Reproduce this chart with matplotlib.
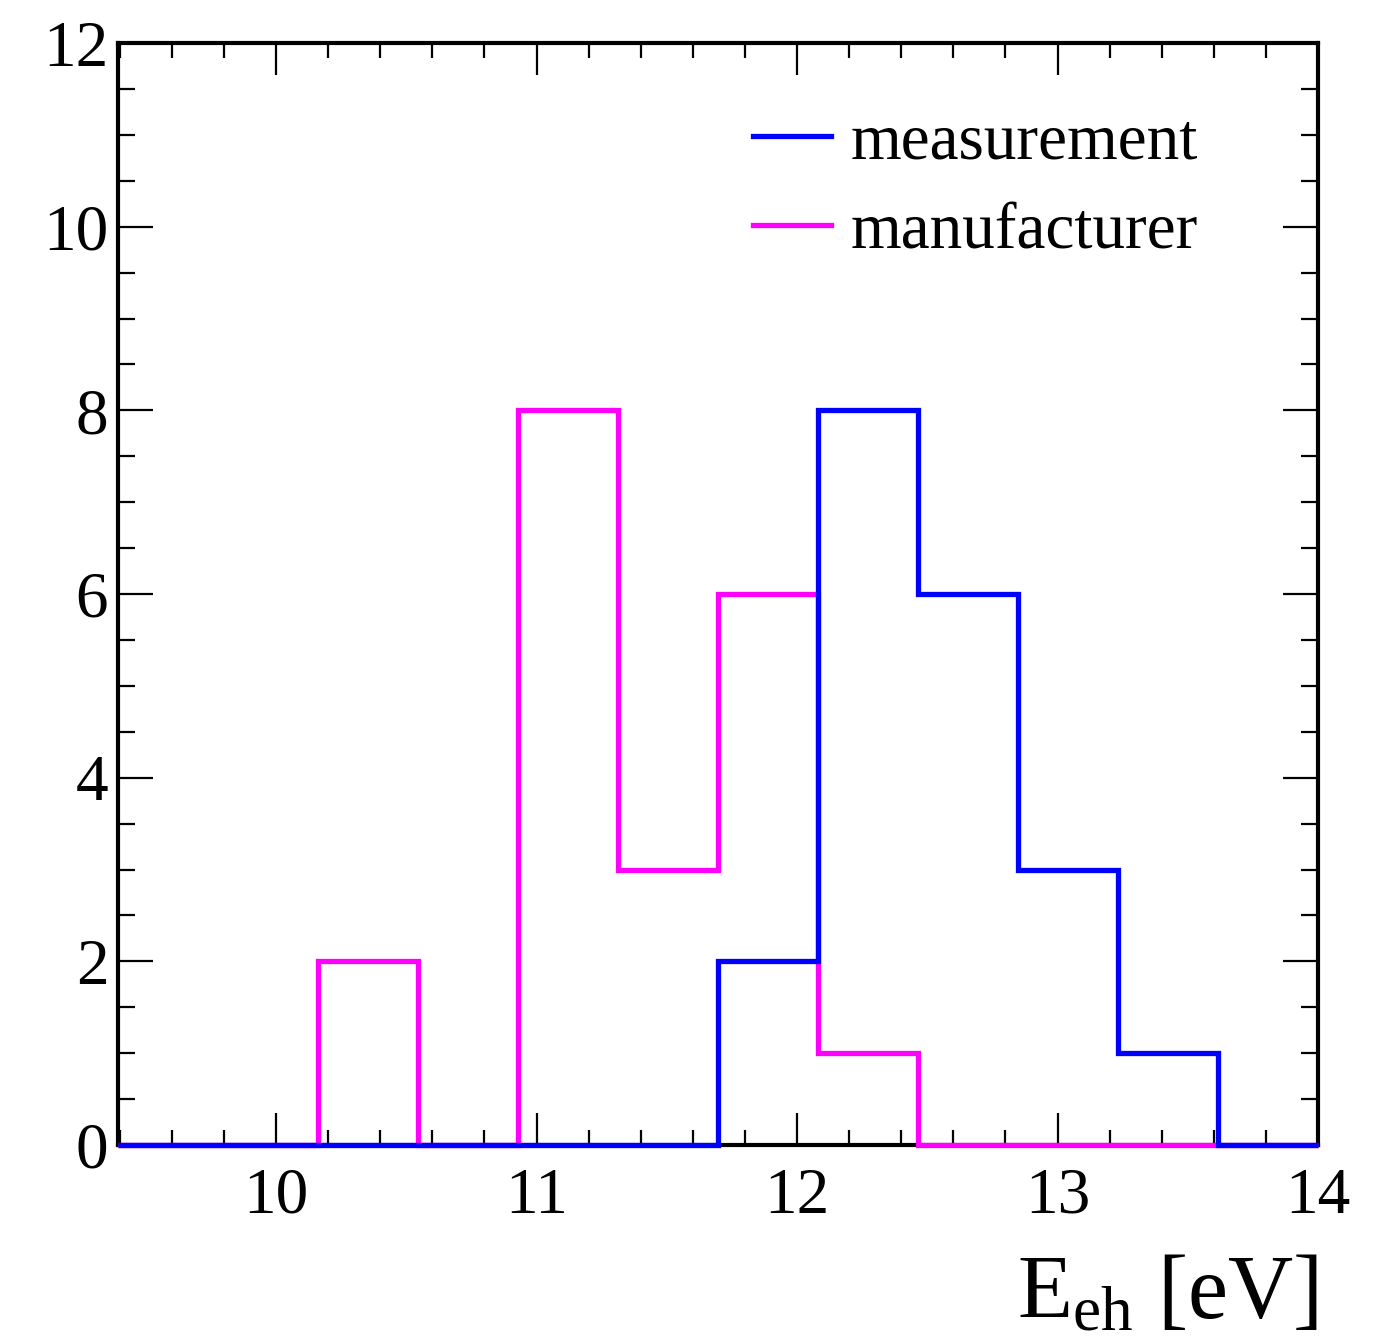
import numpy as np
import matplotlib
matplotlib.use("Agg")
import matplotlib.pyplot as plt
from matplotlib.ticker import MultipleLocator
from matplotlib.lines import Line2D

plt.rcParams['font.family'] = ['Liberation Serif', 'DejaVu Serif']
plt.rcParams['mathtext.fontset'] = 'custom'
plt.rcParams['mathtext.rm'] = 'Liberation Serif'
plt.rcParams['mathtext.it'] = 'Liberation Serif'

# Data
x_min, x_max, n_bins = 9.393, 14.0, 12
bin_edges = np.linspace(x_min, x_max, n_bins + 1)
manufacturer = [0, 0, 2, 0, 8, 3, 6, 1, 0, 0, 0, 0]
measurement = [0, 0, 0, 0, 0, 0, 2, 8, 6, 3, 1, 0]
x_ticks = [10, 11, 12, 13, 14]
y_ticks = [0, 2, 4, 6, 8, 10, 12]
series_labels = ['measurement', 'manufacturer']
blue, magenta = '#0000ff', '#ff00ff'

fig = plt.figure(figsize=(13.93, 13.43), dpi=100)
ax = fig.add_axes([118/1393, 1 - 1145/1343, 1200/1393, 1102/1343])

ax.stairs(manufacturer, bin_edges, baseline=0, color=magenta, lw=3.8,
          clip_on=False, zorder=3)
ax.stairs(measurement, bin_edges, baseline=0, color=blue, lw=3.8,
          clip_on=False, zorder=4)

ax.set_xlim(x_min, x_max)
ax.set_ylim(0, 12)
ax.set_xticks(x_ticks)
ax.set_yticks(y_ticks)
ax.xaxis.set_minor_locator(MultipleLocator(0.2))
ax.yaxis.set_minor_locator(MultipleLocator(0.5))
ax.tick_params(which='both', direction='in', top=True, right=True, width=1.6,
               labelsize=47, color='black')
ax.tick_params(axis='x', which='major', length=23, pad=16)
ax.tick_params(axis='x', which='minor', length=11)
ax.tick_params(axis='y', which='major', length=25, pad=7)
ax.tick_params(axis='y', which='minor', length=12)
for s in ax.spines.values():
    s.set_linewidth(3.0)

ax.set_xlabel(r'$\mathrm{E_{eh}}$ [eV]', fontsize=65, loc='right', labelpad=20)

handles = [Line2D([], [], color=blue, lw=3.8), Line2D([], [], color=magenta, lw=3.8)]
ax.legend(handles, series_labels, loc='upper left',
          bbox_to_anchor=(0.48, 0.99), frameon=False, fontsize=47,
          handlelength=1.2, handletextpad=0.3, labelspacing=0.46)

fig.savefig('out.png', dpi=100)
